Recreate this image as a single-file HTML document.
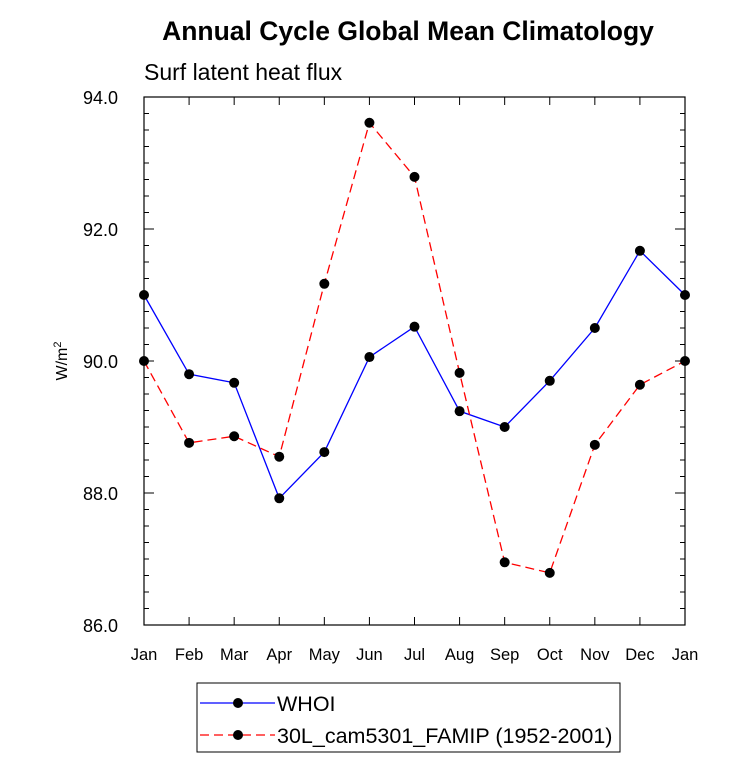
<!DOCTYPE html>
<html><head><meta charset="utf-8"><style>
body{margin:0;background:#fff;}
svg text{font-family:"Liberation Sans",sans-serif;}
</style></head><body>
<svg id="c" width="733" height="761" xmlns="http://www.w3.org/2000/svg">
<text x="408" y="40" text-anchor="middle" font-size="26.5" font-weight="bold">Annual Cycle Global Mean Climatology</text>
<text x="144" y="80" font-size="23">Surf latent heat flux</text>
<text transform="translate(67,361) rotate(-90)" text-anchor="middle" font-size="16">W/m<tspan dy="-6" font-size="11">2</tspan></text>
<g id="axes"></g>
<g id="series"></g>
<g>
<rect x="197" y="683" width="423" height="69" fill="none" stroke="#000" stroke-width="1"/>
<line x1="200" y1="703" x2="275" y2="703" stroke="#00f" stroke-width="1.3"/>
<circle cx="238" cy="703" r="5" fill="#000"/>
<text x="277" y="711" font-size="21.5">WHOI</text>
<line x1="200" y1="735" x2="275" y2="735" stroke="#f00" stroke-width="1.3" stroke-dasharray="9,5"/>
<circle cx="238" cy="735" r="5" fill="#000"/>
<text x="277" y="743" font-size="21.5">30L_cam5301_FAMIP (1952-2001)</text>
</g>
</svg>
<script>
const months=["Jan","Feb","Mar","Apr","May","Jun","Jul","Aug","Sep","Oct","Nov","Dec","Jan"];
const whoi=[91.0,89.8,89.67,87.92,88.62,90.06,90.52,89.24,89.0,89.7,90.5,91.67,91.0];
const model=[90.0,88.76,88.86,88.55,91.17,93.61,92.79,89.82,86.95,86.79,88.73,89.64,90.0];
const yTicks=[86.0,88.0,90.0,92.0,94.0];
const yMin=86,yMax=94;
const L=144,R=685,T=97,B=625;
const NS="http://www.w3.org/2000/svg";
const xs=i=>L+i*(R-L)/(months.length-1);
const ys=v=>B-(v-yMin)/(yMax-yMin)*(B-T);
function mk(tag,attrs,parent){const e=document.createElementNS(NS,tag);for(const k in attrs)e.setAttribute(k,attrs[k]);parent.appendChild(e);return e;}
const ax=document.getElementById('axes');
const frame=mk('rect',{x:L,y:T,width:R-L,height:B-T,fill:'none',stroke:'#000','stroke-width':1.2},ax);


months.forEach((m,i)=>{
  const x=xs(i);
  mk('line',{x1:x,y1:B,x2:x,y2:B-8,stroke:'#000'},ax);
  mk('line',{x1:x,y1:T,x2:x,y2:T+8,stroke:'#000'},ax);
  const t=mk('text',{x:x,y:B+35,'text-anchor':'middle','font-size':16.5},ax);
  t.textContent=m;
  
  
});
for(let v=yMin;v<=yMax+1e-9;v+=0.25){
  const y=ys(v);const major=Math.abs(v-Math.round(v/2)*2)<1e-9;
  const len=major?10:5;
  mk('line',{x1:L,y1:y,x2:L+len,y2:y,stroke:'#000'},ax);
  mk('line',{x1:R,y1:y,x2:R-len,y2:y,stroke:'#000'},ax);
}
yTicks.forEach(v=>{
  const t=mk('text',{x:L-26,y:ys(v)+7,'text-anchor':'end','font-size':18},ax);
  t.textContent=v.toFixed(1);
  
  
});
const sg=document.getElementById('series');
function draw(vals,color,dash,name){
  const pts=vals.map((v,i)=>xs(i)+','+ys(v)).join(' ');
  const pl=mk('polyline',{points:pts,fill:'none',stroke:color,'stroke-width':1.3},sg);
  if(dash)pl.setAttribute('stroke-dasharray',dash);
  
  
  vals.forEach((v,i)=>{
    const c=mk('circle',{cx:xs(i),cy:ys(v),r:5,fill:'#000'},sg);
    
    
  });
}
draw(whoi,'#00f',null,'whoi');
draw(model,'#f00','9,5','model');
</script>
</body></html>
